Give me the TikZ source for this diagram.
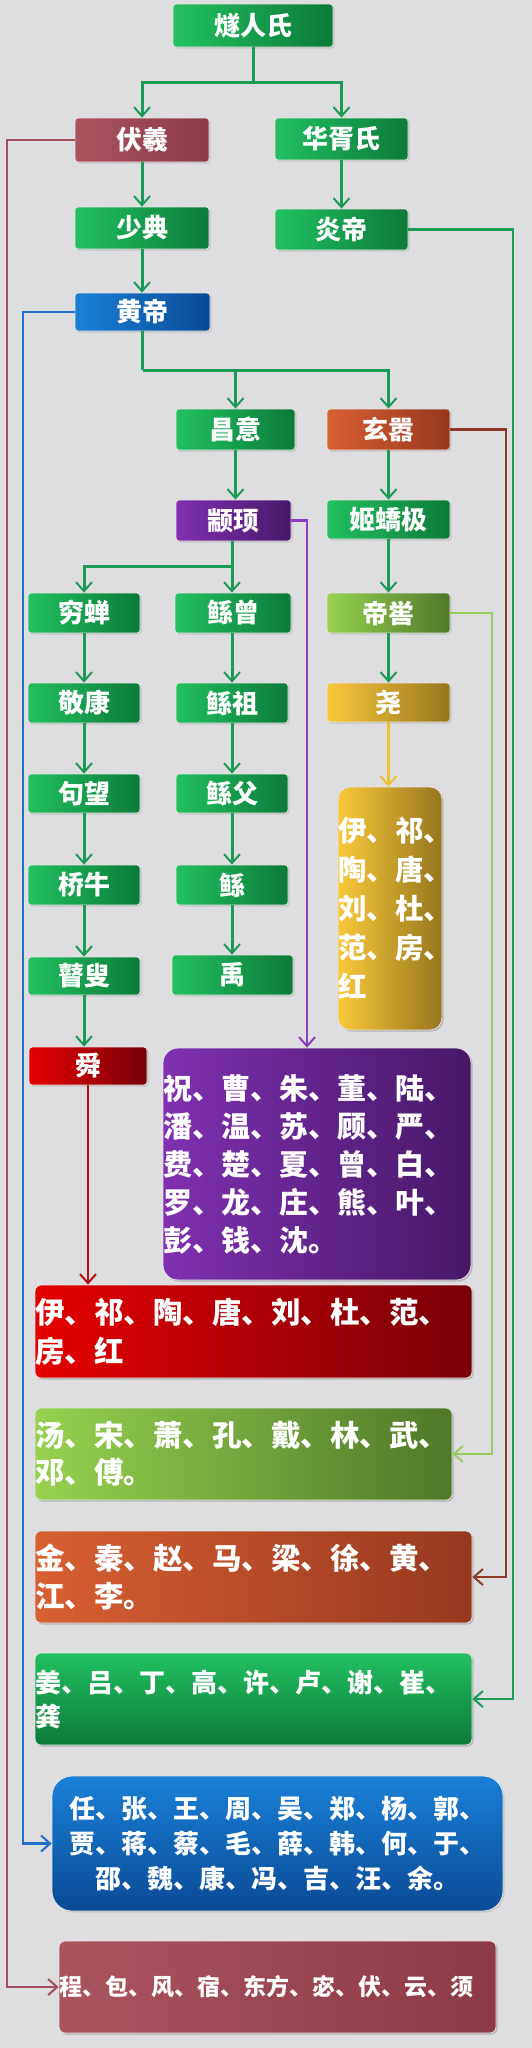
\documentclass[tikz,border=0pt]{standalone}
\usepackage{fontspec}
\setmainfont{Noto Sans CJK SC}
\usetikzlibrary{arrows.meta,shadows}
\definecolor{bg}{RGB}{222,222,224}
\definecolor{gL}{RGB}{34,192,96}
\definecolor{gR}{RGB}{12,122,58}
\definecolor{mL}{RGB}{170,84,96}
\definecolor{mR}{RGB}{140,58,70}
\definecolor{bL}{RGB}{26,128,214}
\definecolor{bR}{RGB}{10,74,150}
\definecolor{oL}{RGB}{216,96,50}
\definecolor{oR}{RGB}{150,56,30}
\definecolor{pL}{RGB}{128,48,176}
\definecolor{pR}{RGB}{70,24,104}
\definecolor{lgL}{RGB}{150,210,80}
\definecolor{lgR}{RGB}{80,120,40}
\definecolor{yL}{RGB}{250,200,58}
\definecolor{yR}{RGB}{150,118,30}
\definecolor{rL}{RGB}{230,0,0}
\definecolor{rR}{RGB}{120,0,10}
\definecolor{gline}{RGB}{26,154,84}
\definecolor{mline}{RGB}{160,80,92}
\definecolor{bline}{RGB}{30,112,200}
\definecolor{oline}{RGB}{140,58,40}
\definecolor{lgline}{RGB}{150,205,90}
\definecolor{pline}{RGB}{140,60,190}
\definecolor{yline}{RGB}{240,192,48}
\definecolor{rline}{RGB}{176,16,16}
\begin{document}
\begin{tikzpicture}[x=1pt,y=-1pt,
  sbox/.style={rounded corners=3pt, draw=white!80!gray, line width=0.8pt, text=white,
    font=\bfseries\fontsize{26}{30}\selectfont, inner sep=0pt,
    drop shadow={opacity=0.25,shadow xshift=1.5pt,shadow yshift=-1.5pt}},
  sz/.style 2 args={minimum width=#1pt, minimum height=#2pt},
  grn/.style={sbox, left color=gL, right color=gR},
  mar/.style={sbox, left color=mL, right color=mR},
  blu/.style={sbox, left color=bL, right color=bR},
  org/.style={sbox, left color=oL, right color=oR},
  pur/.style={sbox, left color=pL, right color=pR},
  lgr/.style={sbox, left color=lgL, right color=lgR},
  yel/.style={sbox, left color=yL, right color=yR},
  rd/.style={sbox, left color=rL, right color=rR},
  bigbox/.style={sbox, align=left, inner xsep=#1pt, inner ysep=0pt},
  tip/.style={-{Straight Barb[length=9pt,width=16pt,line width=2pt]}},
  gl/.style={draw=gline, line width=3pt},
  ga/.style={gl, tip},
  side/.style={line width=2.6pt, tip}
]
\fill[bg] (0,0) rectangle (532,2048);
\useasboundingbox (0,0) rectangle (532,2048);

% small nodes
\node[grn, sz={160}{43}] (suiren) at (253,25.5) {燧人氏};
\node[mar, sz={134}{44}] (fuxi) at (142,140) {伏羲};
\node[grn, sz={133}{42}] (huaxu) at (341.5,139) {华胥氏};
\node[grn, sz={134}{42}] (shaodian) at (142,228) {少典};
\node[grn, sz={133}{41}] (yandi) at (341.5,229.5) {炎帝};
\node[blu, sz={135}{38}] (huangdi) at (142.5,312) {黄帝};
\node[grn, sz={119}{41}] (changyi) at (235.5,429.5) {昌意};
\node[org, sz={123}{41}] (xuanxiao) at (388.5,429.5) {玄嚣};
\node[pur, sz={115}{41}] (zhuanxu) at (233.5,520.5) {颛顼};
\node[grn, sz={123}{39}] (jiqiao) at (388.5,519.5) {姬蟜极};
\node[grn, sz={112}{40}] (qiongchan) at (84,613) {穷蝉};
\node[grn, sz={116}{40}] (gunzeng) at (233,613) {鲧曾};
\node[lgr, sz={123}{40}] (diku) at (388.5,613) {帝喾};
\node[grn, sz={112}{40}] (jingkang) at (84,703) {敬康};
\node[grn, sz={112}{40}] (gunzu) at (232,703) {鲧祖};
\node[yel, sz={123}{39}] (yao) at (388.5,702.5) {尧};
\node[grn, sz={112}{39}] (gouwang) at (84,793.5) {句望};
\node[grn, sz={112}{39}] (gunfu) at (232,793.5) {鲧父};
\node[grn, sz={112}{40}] (qiaoniu) at (84,885) {桥牛};
\node[grn, sz={112}{40}] (gun) at (232,885) {鲧};
\node[grn, sz={112}{38}] (gusou) at (84,976) {瞽叟};
\node[grn, sz={121}{40}] (yu) at (232.5,975) {禹};
\node[rd, sz={118}{38}] (shun) at (88,1066) {舜};

% big boxes
\node[bigbox=10, yel, rounded corners=12pt, text width=104pt, minimum height=243pt,
  font=\bfseries\fontsize{28.5}{39}\selectfont] (byellow) at (390,908.5)
  {伊、祁、\\陶、唐、\\刘、杜、\\范、房、\\红};
\node[bigbox=11, pur, rounded corners=15pt, text width=308pt, minimum height=232pt,
  font=\bfseries\fontsize{29}{38}\selectfont] (bpurple) at (317,1164)
  {祝、曹、朱、董、陆、\\潘、温、苏、顾、严、\\费、楚、夏、曾、白、\\罗、龙、庄、熊、叶、\\彭、钱、沈。};
\node[bigbox=8, rd, rounded corners=6pt, text width=437pt, minimum height=93pt,
  font=\bfseries\fontsize{29.5}{39}\selectfont] (bred) at (253.5,1331.5)
  {伊、祁、陶、唐、刘、杜、范、\\房、红};
\node[bigbox=8, lgr, rounded corners=6pt, text width=417pt, minimum height=92pt,
  font=\bfseries\fontsize{29.5}{37}\selectfont] (blgreen) at (243.5,1454)
  {汤、宋、萧、孔、戴、林、武、\\邓、傅。};
\node[bigbox=8, org, rounded corners=6pt, text width=437pt, minimum height=92pt,
  font=\bfseries\fontsize{29.5}{38}\selectfont] (borange) at (253.5,1577)
  {金、秦、赵、马、梁、徐、黄、\\江、李。};
\node[bigbox=8, sbox, top color=gL, bottom color=gR, rounded corners=6pt, text width=437pt, minimum height=92pt,
  font=\bfseries\fontsize{26}{34}\selectfont] (bgreen) at (253.5,1699)
  {姜、吕、丁、高、许、卢、谢、崔、\\龚};
\node[sbox, top color=bL, bottom color=bR, rounded corners=20pt, align=center,
  minimum width=451pt, minimum height=135pt,
  font=\bfseries\fontsize{26}{35}\selectfont] (bblue) at (277.5,1843.5)
  {任、张、王、周、吴、郑、杨、郭、\\贾、蒋、蔡、毛、薛、韩、何、于、\\邵、魏、康、冯、吉、汪、余。};
\node[bigbox=7, mar, rounded corners=6pt, text width=437pt, minimum height=92pt,
  font=\bfseries\fontsize{23}{30}\selectfont] (bmaroon) at (277.5,1987)
  {程、包、风、宿、东方、宓、伏、云、须};

% green tree connectors
\coordinate (j1) at (253,82);
\draw[gl] (suiren.south) -- (j1);
\draw[ga] (j1) -| (fuxi.north);
\draw[ga] (j1) -| (huaxu.north);
\draw[ga] (fuxi.south) -- (shaodian.north);
\draw[ga] (huaxu.south) -- (yandi.north);
\draw[ga] (shaodian.south) -- (shaodian.south |- huangdi.north);
\coordinate (j2) at (142.5,370);
\draw[gl] (huangdi.south) -- (j2);
\draw[ga] (j2) -| (changyi.north);
\draw[ga] (j2) -| (xuanxiao.north);
\draw[ga] (changyi.south) -- (changyi.south |- zhuanxu.north);
\draw[ga] (xuanxiao.south) -- (jiqiao.north);
\coordinate (j3) at (232,566);
\draw[gl] (zhuanxu.south -| j3) -- (j3);
\draw[ga] (j3) -| (qiongchan.north);
\draw[ga] (j3) -- (j3 |- gunzeng.north);
\draw[ga] (jiqiao.south) -- (diku.north);
\draw[ga] (diku.south) -- (yao.north);
\draw[ga] (qiongchan.south) -- (jingkang.north);
\draw[ga] (jingkang.south) -- (gouwang.north);
\draw[ga] (gouwang.south) -- (qiaoniu.north);
\draw[ga] (qiaoniu.south) -- (gusou.north);
\draw[ga] (gusou.south) -- (gusou.south |- shun.north);
\draw[ga] (gunzeng.south -| gunzu.north) -- (gunzu.north);
\draw[ga] (gunzu.south) -- (gunfu.north);
\draw[ga] (gunfu.south) -- (gun.north);
\draw[ga] (gun.south) -- (gun.south |- yu.north);

% side connectors
\coordinate (pturn) at (307,520.5);
\draw[side, draw=pline, line width=2.2pt] (zhuanxu.east) -- (pturn) -- (pturn |- bpurple.north);
\draw[side, draw=yline, line width=2.2pt] (yao.south) -- (yao.south |- byellow.north);
\draw[side, draw=rline, line width=2.2pt] (shun.south) -- (shun.south |- bred.north);
\coordinate (lgturn) at (492,613);
\draw[side, draw=lgline] (diku.east) -- (lgturn) |- (blgreen.east);
\coordinate (oturn) at (506,429.5);
\draw[side, draw=oline] (xuanxiao.east) -- (oturn) |- (borange.east);
\coordinate (gturn) at (513,229.5);
\draw[side, draw=gline] (yandi.east) -- (gturn) |- (bgreen.east);
\coordinate (bturn) at (23,312);
\draw[side, draw=bline] (huangdi.west) -- (bturn) |- (bblue.west);
\coordinate (mturn) at (7,140);
\draw[side, draw=mline] (fuxi.west) -- (mturn) |- (bmaroon.west);
\end{tikzpicture}
\end{document}
